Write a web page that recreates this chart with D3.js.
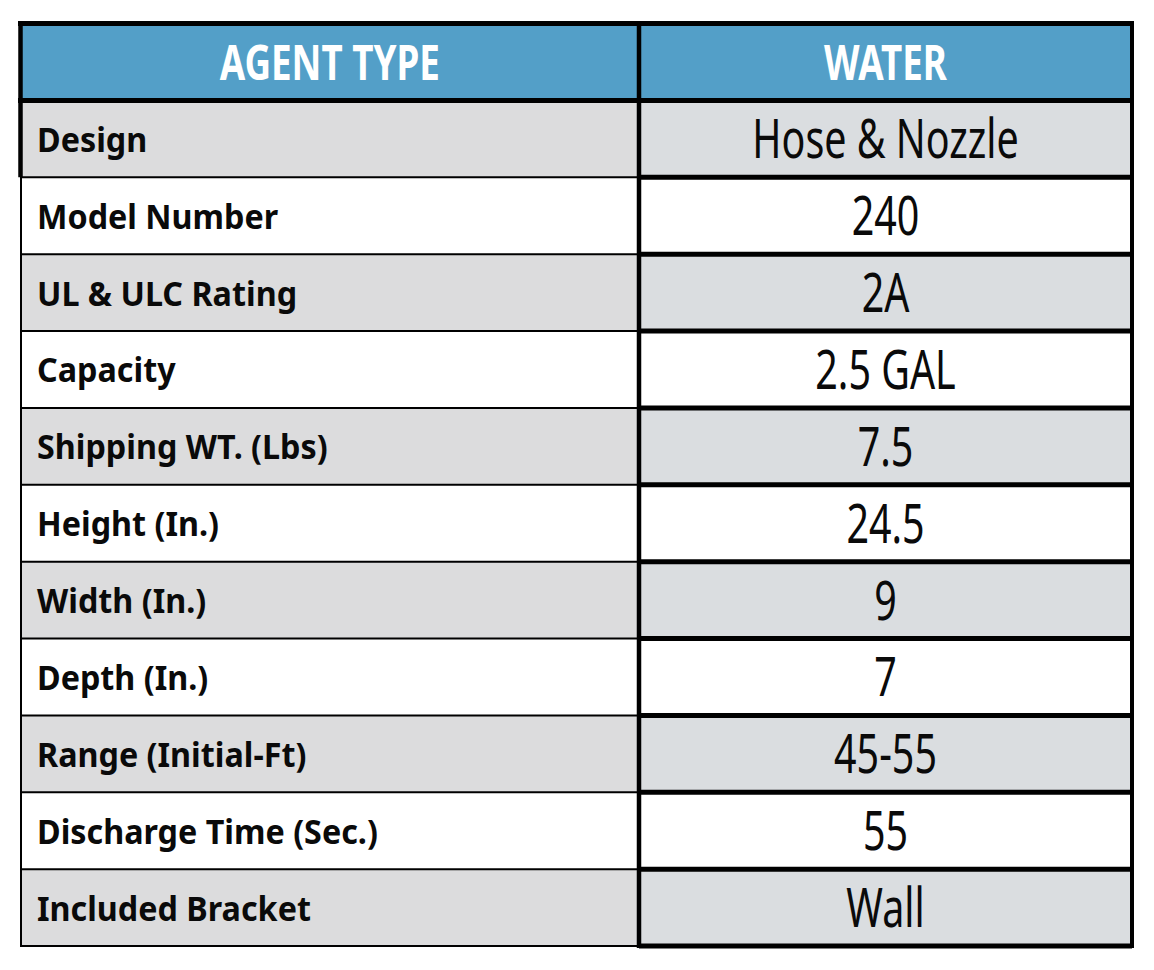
<!DOCTYPE html>
<html><head><meta charset="utf-8">
<script src="https://cdn.jsdelivr.net/npm/d3@7"></script>
<style>html,body{margin:0;padding:0;background:#fff;}svg{display:block;}</style>
</head><body>
<svg id="chart" width="1154" height="970"></svg>
<script>
const headers = ["AGENT TYPE", "WATER"];
const labels = ["Design","Model Number","UL & ULC Rating","Capacity","Shipping WT. (Lbs)","Height (In.)","Width (In.)","Depth (In.)","Range (Initial-Ft)","Discharge Time (Sec.)","Included Bracket"];
const values = ["Hose & Nozzle","240","2A","2.5 GAL","7.5","24.5","9","7","45-55","55","Wall"];

const svg = d3.select("#chart");
const rowKeys = ["__header"].concat(labels);
const y = d3.scaleBand().domain(rowKeys).range([23.5, 946]);
const x = d3.scaleOrdinal().domain(["label","value"]).range([20.5, 639]);
const colW = {label: 639 - 20.5, value: 1132 - 639};
const blue = "#539fc8", grayL = "#dcdcdd", grayR = "#dadde0";

// header fill
svg.append("rect").attr("x", 20.5).attr("y", y("__header")).attr("width", 1132 - 20.5).attr("height", y.bandwidth()).attr("fill", blue);

// body fills
const rows = labels.map((l, i) => ({label: l, value: values[i], i}));
const g = svg.append("g");
rows.forEach(r => {
  g.append("rect").attr("x", x("label")).attr("y", y(r.label)).attr("width", colW.label).attr("height", y.bandwidth())
    .attr("fill", r.i % 2 === 0 ? grayL : "#ffffff");
  g.append("rect").attr("x", x("value")).attr("y", y(r.label)).attr("width", colW.value).attr("height", y.bandwidth())
    .attr("fill", r.i % 2 === 0 ? grayR : "#ffffff");
});

// text
function txt(parent, s, tx, ty, opt) {
  const gg = parent.append("g").attr("transform", `translate(${tx},${ty})`);
  gg.append("text").text(s)
    .attr("transform", `scale(${opt.sx},1)`)
    .attr("text-anchor", opt.anchor)
    .attr("font-family", opt.family)
    .attr("font-weight", opt.weight)
    .attr("font-size", opt.size)
    .attr("fill", opt.fill);
}
const mid = r => y(r) + y.bandwidth() / 2;
txt(svg, headers[0], (20.5 + 639) / 2, mid("__header") + 18, {sx: 0.75, anchor: "middle", family: "Noto Sans", weight: 700, size: 49, fill: "#fff"});
txt(svg, headers[1], (639 + 1132) / 2, mid("__header") + 18, {sx: 0.75, anchor: "middle", family: "Noto Sans", weight: 700, size: 49, fill: "#fff"});
rows.forEach(r => {
  txt(svg, r.label, 37, mid(r.label) + 13, {sx: 0.95, anchor: "start", family: "Noto Sans", weight: 700, size: 34, fill: "#0a0a0a"});
  txt(svg, r.value, (639 + 1132) / 2, mid(r.label) + 19.5, {sx: 0.73, anchor: "middle", family: "Noto Sans", weight: 400, size: 54, fill: "#0a0a0a"});
});

// borders
const lines = svg.append("g").attr("stroke", "#000").attr("fill", "none");
rows.forEach(r => {
  lines.append("line").attr("x1", 20).attr("x2", 639).attr("y1", y(r.label) + y.bandwidth()).attr("y2", y(r.label) + y.bandwidth()).attr("stroke-width", 2);
  lines.append("line").attr("x1", 639).attr("x2", 1132).attr("y1", y(r.label) + y.bandwidth()).attr("y2", y(r.label) + y.bandwidth()).attr("stroke-width", 5);
});
lines.append("line").attr("x1", 18).attr("x2", 1134).attr("y1", y("__header")).attr("y2", y("__header")).attr("stroke-width", 5);
lines.append("line").attr("x1", 18).attr("x2", 1134).attr("y1", y(labels[0])).attr("y2", y(labels[0])).attr("stroke-width", 5);
lines.append("line").attr("x1", 20.5).attr("x2", 20.5).attr("y1", y("__header")).attr("y2", y(labels[1])).attr("stroke-width", 4.5);
lines.append("line").attr("x1", 21).attr("x2", 21).attr("y1", y(labels[1])).attr("y2", 946).attr("stroke-width", 2);
lines.append("line").attr("x1", 639).attr("x2", 639).attr("y1", y("__header")).attr("y2", 948).attr("stroke-width", 4.5);
lines.append("line").attr("x1", 1132).attr("x2", 1132).attr("y1", y("__header") - 2.5).attr("y2", 948).attr("stroke-width", 4);
</script>
</body></html>
